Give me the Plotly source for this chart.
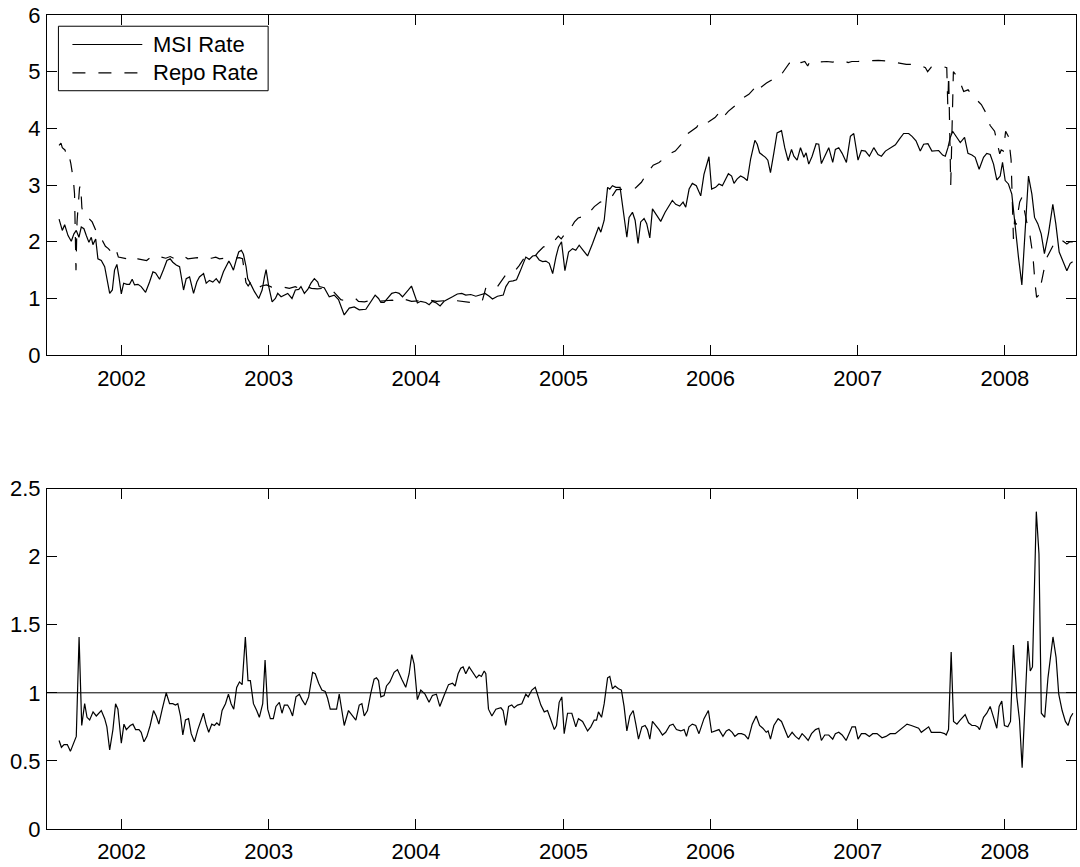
import datetime as dt
import plotly.graph_objects as go

# ---------------- data (time in decimal years) ----------------
msi_t = [2001.575, 2001.597, 2001.613, 2001.636, 2001.658, 2001.676, 2001.692, 2001.710, 2001.726, 2001.744,
         2001.760, 2001.778, 2001.794, 2001.805, 2001.824, 2001.839, 2001.862, 2001.885, 2001.919, 2001.937,
         2001.952, 2001.968, 2001.982, 2001.998, 2002.014, 2002.036, 2002.054, 2002.072, 2002.088, 2002.111,
         2002.133, 2002.163, 2002.190, 2002.213, 2002.231, 2002.258, 2002.285, 2002.308, 2002.330, 2002.348,
         2002.371, 2002.394, 2002.421, 2002.439, 2002.462, 2002.489, 2002.511, 2002.529, 2002.557, 2002.575,
         2002.597, 2002.620, 2002.643, 2002.665, 2002.692, 2002.710, 2002.729, 2002.744, 2002.760, 2002.778,
         2002.796, 2002.814, 2002.828, 2002.846, 2002.857, 2002.880, 2002.903, 2002.932, 2002.955, 2002.971,
         2002.982, 2003.000, 2003.023, 2003.045, 2003.061, 2003.084, 2003.106, 2003.129, 2003.158, 2003.181,
         2003.204, 2003.219, 2003.242, 2003.265, 2003.287, 2003.310, 2003.333, 2003.343, 2003.377, 2003.411,
         2003.445, 2003.474, 2003.513, 2003.547, 2003.581, 2003.615, 2003.660, 2003.694, 2003.723, 2003.746,
         2003.762, 2003.784, 2003.814, 2003.836, 2003.863, 2003.886, 2003.909, 2003.931, 2003.949, 2003.970,
         2003.988, 2004.010, 2004.033, 2004.067, 2004.090, 2004.112, 2004.139, 2004.164, 2004.191, 2004.221,
         2004.248, 2004.281, 2004.311, 2004.338, 2004.372, 2004.406, 2004.440, 2004.469, 2004.497, 2004.519,
         2004.553, 2004.592, 2004.610, 2004.632, 2004.659, 2004.682, 2004.705, 2004.727, 2004.745, 2004.768,
         2004.791, 2004.813, 2004.836, 2004.859, 2004.881, 2004.904, 2004.927, 2004.949, 2004.967, 2004.987,
         2005.010, 2005.035, 2005.062, 2005.084, 2005.107, 2005.134, 2005.164, 2005.198, 2005.225, 2005.239,
         2005.254, 2005.277, 2005.300, 2005.315, 2005.333, 2005.356, 2005.385, 2005.401, 2005.431, 2005.446,
         2005.469, 2005.487, 2005.507, 2005.525, 2005.548, 2005.566, 2005.587, 2005.605, 2005.628, 2005.646,
         2005.661, 2005.691, 2005.718, 2005.740, 2005.763, 2005.790, 2005.813, 2005.831, 2005.854, 2005.876,
         2005.903, 2005.933, 2005.955, 2005.989, 2006.007, 2006.034, 2006.057, 2006.080, 2006.121, 2006.143,
         2006.159, 2006.181, 2006.204, 2006.227, 2006.249, 2006.272, 2006.301, 2006.317, 2006.333, 2006.351,
         2006.373, 2006.389, 2006.407, 2006.430, 2006.452, 2006.482, 2006.504, 2006.527, 2006.550, 2006.566,
         2006.588, 2006.611, 2006.634, 2006.649, 2006.667, 2006.690, 2006.717, 2006.735, 2006.753, 2006.776,
         2006.803, 2006.830, 2006.848, 2006.871, 2006.894, 2006.923, 2006.950, 2006.973, 2007.002, 2007.025,
         2007.052, 2007.079, 2007.109, 2007.138, 2007.161, 2007.188, 2007.222, 2007.256, 2007.283, 2007.312,
         2007.346, 2007.369, 2007.396, 2007.425, 2007.448, 2007.477, 2007.504, 2007.527, 2007.550, 2007.577,
         2007.595, 2007.613, 2007.629, 2007.645, 2007.667, 2007.697, 2007.726, 2007.749, 2007.776, 2007.798,
         2007.825, 2007.855, 2007.877, 2007.900, 2007.923, 2007.945, 2007.968, 2007.984, 2008.002, 2008.024,
         2008.047, 2008.058, 2008.076, 2008.092, 2008.115, 2008.137, 2008.160, 2008.183, 2008.201, 2008.223,
         2008.246, 2008.268, 2008.295, 2008.325, 2008.345, 2008.368, 2008.391, 2008.420, 2008.443, 2008.459]
msi_v = [2.40, 2.20, 2.30, 2.11, 2.01, 2.14, 2.20, 2.08, 2.26, 2.23,
         2.11, 1.99, 2.08, 1.95, 2.05, 1.70, 1.67, 1.56, 1.09, 1.15,
         1.50, 1.60, 1.38, 1.08, 1.27, 1.25, 1.25, 1.34, 1.24, 1.25,
         1.21, 1.11, 1.29, 1.47, 1.45, 1.34, 1.51, 1.67, 1.70, 1.64,
         1.59, 1.56, 1.15, 1.35, 1.38, 1.09, 1.29, 1.38, 1.44, 1.27,
         1.32, 1.29, 1.35, 1.27, 1.47, 1.56, 1.66, 1.59, 1.50, 1.67,
         1.82, 1.85, 1.78, 1.56, 1.35, 1.24, 1.12, 1.00, 1.15, 1.38,
         1.51, 1.21, 0.94, 1.00, 1.09, 1.03, 1.06, 1.09, 1.00, 1.15,
         1.16, 1.21, 1.09, 1.16, 1.27, 1.35, 1.29, 1.21, 1.19, 1.03,
         1.06, 0.98, 0.71, 0.83, 0.85, 0.80, 0.81, 0.95, 1.06, 1.00,
         0.93, 0.93, 1.03, 1.09, 1.11, 1.09, 1.03, 1.09, 1.15, 1.22,
         1.09, 0.92, 0.95, 0.93, 0.89, 0.95, 0.92, 0.87, 0.95, 1.00,
         1.03, 1.08, 1.09, 1.06, 1.07, 1.04, 1.06, 1.09, 1.04, 0.99,
         1.04, 1.06, 1.21, 1.30, 1.31, 1.33, 1.47, 1.62, 1.73, 1.69,
         1.75, 1.76, 1.68, 1.65, 1.66, 1.62, 1.44, 1.73, 1.91, 2.00,
         1.49, 1.82, 1.88, 1.85, 1.94, 1.85, 1.75, 1.97, 2.14, 2.26,
         2.17, 2.38, 2.96, 2.93, 2.99, 2.96, 2.96, 2.67, 2.08, 2.43,
         2.52, 2.38, 1.97, 2.35, 2.41, 2.32, 2.07, 2.58, 2.49, 2.43,
         2.36, 2.52, 2.64, 2.73, 2.66, 2.63, 2.70, 2.61, 2.93, 3.03,
         2.99, 2.81, 3.19, 3.50, 2.93, 2.96, 3.02, 2.99, 3.20, 3.16,
         3.03, 3.11, 3.16, 3.13, 3.08, 3.46, 3.79, 3.72, 3.57, 3.54,
         3.49, 3.44, 3.22, 3.57, 3.92, 3.96, 3.66, 3.43, 3.63, 3.51,
         3.44, 3.66, 3.49, 3.57, 3.37, 3.51, 3.73, 3.72, 3.38, 3.51,
         3.66, 3.40, 3.63, 3.66, 3.56, 3.40, 3.86, 3.91, 3.44, 3.61,
         3.60, 3.51, 3.66, 3.54, 3.51, 3.60, 3.66, 3.71, 3.81, 3.91,
         3.91, 3.86, 3.78, 3.60, 3.72, 3.73, 3.60, 3.61, 3.61, 3.53,
         3.51, 3.66, 3.84, 3.95, 3.86, 3.75, 3.84, 3.56, 3.53, 3.49,
         3.28, 3.49, 3.56, 3.54, 3.37, 3.09, 3.16, 3.40, 3.08, 3.02,
         2.84, 2.55, 2.14, 1.73, 1.24, 2.26, 3.16, 2.84, 2.43, 2.32,
         2.14, 1.79, 2.14, 2.66, 2.32, 1.82, 1.68, 1.49, 1.62, 1.65]

repo_t = [2001.575, 2001.588, 2001.597, 2001.615, 2001.635, 2001.645, 2001.655, 2001.672, 2001.680, 2001.684,
          2001.690, 2001.697, 2001.705, 2001.714, 2001.722, 2001.730, 2001.745, 2001.775, 2001.800, 2001.828,
          2001.850, 2001.870, 2001.890, 2001.910, 2001.935, 2001.955, 2001.965, 2001.978, 2002.000, 2002.040,
          2002.065, 2002.085, 2002.110, 2002.140, 2002.170, 2002.195, 2002.225, 2002.255, 2002.280, 2002.300,
          2002.330, 2002.360, 2002.395, 2002.420, 2002.450, 2002.480, 2002.515, 2002.545, 2002.575, 2002.610,
          2002.640, 2002.665, 2002.700, 2002.735, 2002.770, 2002.800, 2002.822, 2002.835, 2002.845, 2002.860,
          2002.875, 2002.890, 2002.920, 2002.950, 2002.985, 2003.020, 2003.060, 2003.100, 2003.140, 2003.180,
          2003.215, 2003.250, 2003.290, 2003.330, 2003.380, 2003.430, 2003.465, 2003.490, 2003.520, 2003.560,
          2003.590, 2003.610, 2003.650, 2003.700, 2003.740, 2003.790, 2003.840, 2003.880, 2003.930, 2003.970,
          2004.020, 2004.060, 2004.100, 2004.140, 2004.190, 2004.240, 2004.280, 2004.330, 2004.370, 2004.410,
          2004.450, 2004.475, 2004.510, 2004.550, 2004.585, 2004.610, 2004.640, 2004.670, 2004.700, 2004.730,
          2004.765, 2004.800, 2004.830, 2004.865, 2004.900, 2004.940, 2004.965, 2004.985, 2005.005, 2005.040,
          2005.075, 2005.100, 2005.140, 2005.170, 2005.210, 2005.250, 2005.290, 2005.330, 2005.360, 2005.400,
          2005.450, 2005.490, 2005.530, 2005.570, 2005.610, 2005.650, 2005.690, 2005.720, 2005.760, 2005.800,
          2005.830, 2005.870, 2005.905, 2005.930, 2005.960, 2005.990, 2006.030, 2006.060, 2006.080, 2006.120,
          2006.165, 2006.190, 2006.215, 2006.260, 2006.295, 2006.310, 2006.330, 2006.380, 2006.425, 2006.450,
          2006.475, 2006.510, 2006.535, 2006.560, 2006.580, 2006.615, 2006.640, 2006.660, 2006.675, 2006.710,
          2006.750, 2006.790, 2006.830, 2006.870, 2006.910, 2006.935, 2006.960, 2007.000, 2007.050, 2007.090,
          2007.140, 2007.190, 2007.240, 2007.290, 2007.330, 2007.380, 2007.420, 2007.460, 2007.475, 2007.500,
          2007.540, 2007.580, 2007.605, 2007.612, 2007.618, 2007.632, 2007.642, 2007.650, 2007.665, 2007.690,
          2007.720, 2007.750, 2007.780, 2007.810, 2007.840, 2007.870, 2007.900, 2007.930, 2007.955, 2007.965,
          2007.975, 2007.990, 2008.005, 2008.025, 2008.042, 2008.050, 2008.058, 2008.066, 2008.075, 2008.085,
          2008.100, 2008.115, 2008.130, 2008.148, 2008.165, 2008.190, 2008.205, 2008.215, 2008.230, 2008.245,
          2008.280, 2008.330, 2008.370, 2008.400, 2008.420, 2008.440, 2008.460]
repo_v = [3.70, 3.74, 3.66, 3.62, 3.46, 3.50, 3.38, 3.10, 2.85, 2.45,
          1.50, 2.35, 2.60, 2.95, 3.00, 2.60, 2.45, 2.42, 2.35, 2.18,
          2.05, 2.02, 1.92, 1.88, 1.80, 1.76, 1.84, 1.73, 1.72, 1.70,
          1.75, 1.71, 1.70, 1.68, 1.67, 1.72, 1.70, 1.74, 1.72, 1.71,
          1.74, 1.70, 1.72, 1.75, 1.70, 1.71, 1.72, 1.70, 1.72, 1.71,
          1.73, 1.70, 1.71, 1.70, 1.71, 1.72, 1.70, 1.45, 1.28, 1.22,
          1.28, 1.20, 1.17, 1.22, 1.24, 1.20, 1.22, 1.20, 1.18, 1.21,
          1.17, 1.22, 1.18, 1.17, 1.18, 1.15, 1.05, 0.98, 0.96, 0.98,
          1.00, 0.95, 0.94, 0.97, 0.95, 0.96, 0.97, 0.94, 0.98, 0.95,
          0.96, 0.94, 0.97, 0.95, 0.96, 0.97, 0.96, 0.94, 0.93, 0.94,
          0.96, 1.20, 1.22, 1.20, 1.32, 1.42, 1.45, 1.48, 1.58, 1.70,
          1.72, 1.72, 1.82, 1.91, 1.93, 2.02, 2.10, 2.05, 2.12, 2.20,
          2.35, 2.42, 2.45, 2.50, 2.62, 2.70, 2.72, 2.80, 2.92, 2.92,
          2.93, 2.95, 3.05, 3.22, 3.35, 3.40, 3.48, 3.55, 3.60, 3.72,
          3.88, 3.95, 4.02, 4.12, 4.08, 4.12, 4.19, 4.28, 4.18, 4.30,
          4.40, 4.45, 4.53, 4.60, 4.70, 4.62, 4.70, 4.80, 4.87, 4.88,
          4.93, 5.05, 5.15, 5.13, 5.20, 5.16, 5.18, 5.10, 5.18, 5.17,
          5.18, 5.18, 5.17, 5.18, 5.19, 5.16, 5.18, 5.18, 5.19, 5.20,
          5.20, 5.19, 5.17, 5.14, 5.13, 5.13, 5.12, 5.07, 5.00, 5.08,
          5.10, 5.09, 5.07, 4.40, 4.95, 3.00, 4.40, 5.00, 4.95, 4.85,
          4.65, 4.68, 4.58, 4.50, 4.42, 4.28, 4.05, 3.95, 3.70, 3.55,
          3.62, 3.60, 3.95, 3.85, 3.45, 2.50, 2.05, 2.40, 2.30, 2.45,
          2.70, 2.78, 2.55, 2.35, 2.20, 1.75, 1.25, 1.02, 1.06, 1.25,
          1.70, 1.95, 2.05, 2.00, 1.96, 2.00, 2.00]

ratio_t = [2001.575, 2001.591, 2001.609, 2001.631, 2001.652, 2001.674, 2001.692, 2001.711, 2001.729, 2001.749,
           2001.765, 2001.783, 2001.806, 2001.828, 2001.862, 2001.885, 2001.900, 2001.919, 2001.941, 2001.959,
           2001.975, 2001.998, 2002.016, 2002.032, 2002.059, 2002.077, 2002.095, 2002.118, 2002.133, 2002.152,
           2002.172, 2002.194, 2002.217, 2002.235, 2002.253, 2002.276, 2002.303, 2002.326, 2002.348, 2002.366,
           2002.382, 2002.400, 2002.416, 2002.434, 2002.455, 2002.473, 2002.495, 2002.518, 2002.540, 2002.556,
           2002.574, 2002.592, 2002.613, 2002.631, 2002.647, 2002.665, 2002.683, 2002.706, 2002.726, 2002.744,
           2002.762, 2002.782, 2002.801, 2002.819, 2002.841, 2002.859, 2002.875, 2002.896, 2002.918, 2002.936,
           2002.959, 2002.975, 2002.993, 2003.011, 2003.031, 2003.049, 2003.072, 2003.090, 2003.106, 2003.128,
           2003.144, 2003.162, 2003.185, 2003.208, 2003.226, 2003.248, 2003.271, 2003.298, 2003.316, 2003.339,
           2003.361, 2003.384, 2003.400, 2003.418, 2003.441, 2003.461, 2003.479, 2003.497, 2003.513, 2003.542,
           2003.574, 2003.592, 2003.615, 2003.633, 2003.649, 2003.671, 2003.694, 2003.716, 2003.732, 2003.746,
           2003.762, 2003.784, 2003.800, 2003.823, 2003.852, 2003.875, 2003.904, 2003.931, 2003.954, 2003.972,
           2003.988, 2004.010, 2004.033, 2004.062, 2004.089, 2004.112, 2004.139, 2004.162, 2004.191, 2004.221,
           2004.248, 2004.266, 2004.286, 2004.304, 2004.320, 2004.338, 2004.361, 2004.388, 2004.410, 2004.428,
           2004.444, 2004.463, 2004.474, 2004.492, 2004.515, 2004.542, 2004.576, 2004.591, 2004.609, 2004.628,
           2004.650, 2004.666, 2004.689, 2004.718, 2004.745, 2004.761, 2004.786, 2004.809, 2004.824, 2004.847,
           2004.870, 2004.892, 2004.915, 2004.938, 2004.953, 2004.971, 2004.989, 2005.005, 2005.028, 2005.057,
           2005.084, 2005.102, 2005.130, 2005.164, 2005.186, 2005.209, 2005.225, 2005.238, 2005.259, 2005.277,
           2005.300, 2005.315, 2005.333, 2005.351, 2005.374, 2005.394, 2005.412, 2005.431, 2005.451, 2005.474,
           2005.492, 2005.510, 2005.533, 2005.555, 2005.571, 2005.587, 2005.605, 2005.628, 2005.650, 2005.673,
           2005.695, 2005.722, 2005.745, 2005.768, 2005.797, 2005.820, 2005.836, 2005.853, 2005.876, 2005.899,
           2005.921, 2005.955, 2005.985, 2006.007, 2006.034, 2006.057, 2006.084, 2006.107, 2006.125, 2006.147,
           2006.165, 2006.188, 2006.210, 2006.233, 2006.256, 2006.283, 2006.310, 2006.333, 2006.355, 2006.378,
           2006.391, 2006.407, 2006.430, 2006.459, 2006.482, 2006.505, 2006.527, 2006.554, 2006.577, 2006.600,
           2006.622, 2006.640, 2006.663, 2006.686, 2006.713, 2006.735, 2006.753, 2006.776, 2006.803, 2006.830,
           2006.848, 2006.871, 2006.894, 2006.921, 2006.943, 2006.961, 2006.984, 2007.002, 2007.025, 2007.052,
           2007.079, 2007.102, 2007.131, 2007.165, 2007.192, 2007.221, 2007.255, 2007.289, 2007.312, 2007.335,
           2007.364, 2007.391, 2007.414, 2007.432, 2007.459, 2007.482, 2007.500, 2007.527, 2007.561, 2007.590,
           2007.601, 2007.617, 2007.635, 2007.651, 2007.674, 2007.696, 2007.719, 2007.730, 2007.753, 2007.776,
           2007.798, 2007.816, 2007.828, 2007.855, 2007.877, 2007.900, 2007.923, 2007.945, 2007.961, 2007.979,
           2007.997, 2008.020, 2008.038, 2008.058, 2008.081, 2008.099, 2008.117, 2008.138, 2008.156, 2008.172,
           2008.187, 2008.213, 2008.231, 2008.247, 2008.270, 2008.292, 2008.326, 2008.347, 2008.365, 2008.388,
           2008.410, 2008.428, 2008.445, 2008.461]
ratio_v = [0.65, 0.60, 0.62, 0.62, 0.57, 0.63, 0.68, 1.41, 0.76, 0.92,
           0.82, 0.80, 0.86, 0.83, 0.87, 0.81, 0.75, 0.58, 0.73, 0.92,
           0.88, 0.63, 0.77, 0.73, 0.76, 0.77, 0.73, 0.73, 0.71, 0.64,
           0.68, 0.76, 0.87, 0.83, 0.77, 0.88, 1.00, 0.92, 0.92, 0.91,
           0.92, 0.83, 0.69, 0.80, 0.81, 0.70, 0.64, 0.73, 0.80, 0.85,
           0.77, 0.71, 0.77, 0.76, 0.78, 0.76, 0.87, 0.92, 0.99, 0.92,
           0.88, 1.04, 1.08, 1.06, 1.41, 1.09, 1.09, 0.92, 0.87, 0.82,
           0.92, 1.24, 0.88, 0.81, 0.81, 0.90, 0.93, 0.85, 0.91, 0.91,
           0.88, 0.83, 0.97, 0.99, 0.95, 0.91, 0.97, 1.15, 1.14, 1.07,
           1.02, 1.01, 0.96, 0.88, 0.88, 0.88, 0.99, 0.86, 0.76, 0.87,
           0.82, 0.80, 0.91, 0.92, 0.83, 0.87, 1.00, 1.10, 1.11, 1.09,
           0.97, 0.98, 1.05, 1.08, 1.15, 1.17, 1.10, 1.04, 1.14, 1.28,
           1.21, 0.95, 1.02, 0.99, 0.93, 0.98, 0.99, 0.90, 0.98, 1.06,
           1.07, 1.05, 1.14, 1.18, 1.19, 1.14, 1.19, 1.14, 1.11, 1.13,
           1.12, 1.16, 1.14, 0.88, 0.83, 0.88, 0.89, 0.87, 0.76, 0.90,
           0.91, 0.89, 0.91, 0.92, 0.99, 0.97, 1.02, 1.04, 0.99, 0.91,
           0.86, 0.87, 0.80, 0.73, 0.76, 0.93, 0.97, 0.70, 0.85, 0.85,
           0.75, 0.81, 0.79, 0.72, 0.75, 0.80, 0.80, 0.86, 0.82, 0.92,
           1.11, 1.12, 1.03, 1.05, 1.03, 1.02, 0.90, 0.72, 0.83, 0.87,
           0.77, 0.66, 0.75, 0.76, 0.73, 0.66, 0.79, 0.76, 0.73, 0.69,
           0.71, 0.76, 0.77, 0.73, 0.72, 0.73, 0.68, 0.75, 0.77, 0.76,
           0.70, 0.81, 0.87, 0.71, 0.72, 0.73, 0.68, 0.72, 0.73, 0.71,
           0.68, 0.70, 0.70, 0.69, 0.66, 0.77, 0.83, 0.76, 0.74, 0.71,
           0.72, 0.66, 0.76, 0.81, 0.79, 0.73, 0.67, 0.71, 0.68, 0.66,
           0.70, 0.68, 0.65, 0.70, 0.73, 0.74, 0.65, 0.69, 0.69, 0.66,
           0.70, 0.71, 0.69, 0.65, 0.70, 0.75, 0.75, 0.66, 0.70, 0.70,
           0.68, 0.70, 0.70, 0.67, 0.68, 0.70, 0.70, 0.73, 0.75, 0.77,
           0.76, 0.75, 0.74, 0.71, 0.73, 0.75, 0.71, 0.71, 0.71, 0.70,
           0.69, 0.73, 1.30, 0.79, 0.77, 0.80, 0.83, 0.84, 0.78, 0.76,
           0.76, 0.75, 0.73, 0.82, 0.85, 0.90, 0.82, 0.74, 0.90, 0.94,
           0.76, 0.75, 0.79, 1.35, 0.97, 0.80, 0.45, 0.92, 1.38, 1.16,
           1.19, 2.33, 2.02, 0.85, 0.82, 1.11, 1.41, 1.26, 0.99, 0.87,
           0.79, 0.76, 0.82, 0.85]

year_ticks = [2002, 2003, 2004, 2005, 2006, 2007, 2008]
x_limits = [2001.493, 2008.482]
top_y_limits = [0, 6]
bottom_y_limits = [0, 2.5]
series_names = ["MSI Rate", "Repo Rate"]


def to_date(y):
    yr = int(y)
    a = dt.datetime(yr, 1, 1)
    b = dt.datetime(yr + 1, 1, 1)
    return a + (b - a) * (y - yr)


FONT = "Liberation Sans, Arial, Helvetica, sans-serif"
FS = 22
LW = 1.2
DASH = "13px,13px"

fig = go.Figure()
fig.add_trace(go.Scatter(x=[to_date(t) for t in msi_t], y=msi_v, mode="lines", name=series_names[0],
                         line=dict(color="black", width=LW), xaxis="x", yaxis="y", showlegend=False))
fig.add_trace(go.Scatter(x=[to_date(t) for t in repo_t], y=repo_v, mode="lines", name=series_names[1],
                         line=dict(color="black", width=LW, dash=DASH), xaxis="x", yaxis="y", showlegend=False))
fig.add_trace(go.Scatter(x=[to_date(t) for t in ratio_t], y=ratio_v, mode="lines", name="MSI / Repo",
                         line=dict(color="black", width=LW), xaxis="x2", yaxis="y2", showlegend=False))

xcommon = dict(type="date", range=[to_date(x_limits[0]), to_date(x_limits[1])],
               tickmode="array", tickvals=[to_date(y) for y in year_ticks], ticktext=[str(y) for y in year_ticks],
               ticks="inside", ticklen=10, tickwidth=1, tickcolor="black", mirror="allticks",
               showline=True, linecolor="black", linewidth=1, showgrid=False, zeroline=False,
               tickfont=dict(family=FONT, size=FS, color="black"), ticklabelstandoff=3)
ycommon = dict(ticks="inside", ticklen=10, tickwidth=1, tickcolor="black", mirror="allticks",
               showline=True, linecolor="black", linewidth=1, showgrid=False, zeroline=False,
               tickfont=dict(family=FONT, size=FS, color="black"), ticklabelstandoff=1)

top_dom = [(833 - 355.7) / 820, 1.0]
bot_dom = [0.0, (833 - 490) / 820]

fig.update_layout(
    width=1080, height=867,
    margin=dict(l=47, r=3, t=13, b=34),
    paper_bgcolor="white", plot_bgcolor="white",
    font=dict(family=FONT, size=FS, color="black"),
    xaxis=dict(domain=[0, 1], anchor="y", **xcommon),
    yaxis=dict(domain=top_dom, anchor="x", range=top_y_limits, dtick=1, tick0=0, **ycommon),
    xaxis2=dict(domain=[0, 1], anchor="y2", **xcommon),
    yaxis2=dict(domain=bot_dom, anchor="x2", range=bottom_y_limits, dtick=0.5, tick0=0, **ycommon),
    showlegend=False,
)

# reference line at 1 in lower panel
fig.add_shape(type="line", xref="x2 domain", yref="y2", x0=0, x1=1, y0=1, y1=1,
              line=dict(color="black", width=1), layer="below")

# legend box (upper-left, MATLAB style)
lx0, lx1, ly0, ly1 = 0.0111, 0.2149, 0.7774, 0.967
fig.add_shape(type="rect", xref="x domain", yref="y domain", x0=lx0, x1=lx1, y0=ly0, y1=ly1,
              line=dict(color="black", width=1), fillcolor="white", layer="above")
rows = [0.9133, 0.8299]
for name, yy, dash in zip(series_names, rows, ["solid", DASH]):
    fig.add_shape(type="line", xref="x domain", yref="y domain", x0=0.0247, x1=0.0926, y0=yy, y1=yy,
                  line=dict(color="black", width=LW, dash=dash), layer="above")
    fig.add_annotation(text=name, xref="x domain", yref="y domain", x=0.1007, y=yy,
                       xanchor="left", yanchor="middle", showarrow=False,
                       font=dict(family=FONT, size=FS, color="black"))

fig.write_html("out.html", config={"displayModeBar": False},
               post_script="document.body.style.margin='0';")
